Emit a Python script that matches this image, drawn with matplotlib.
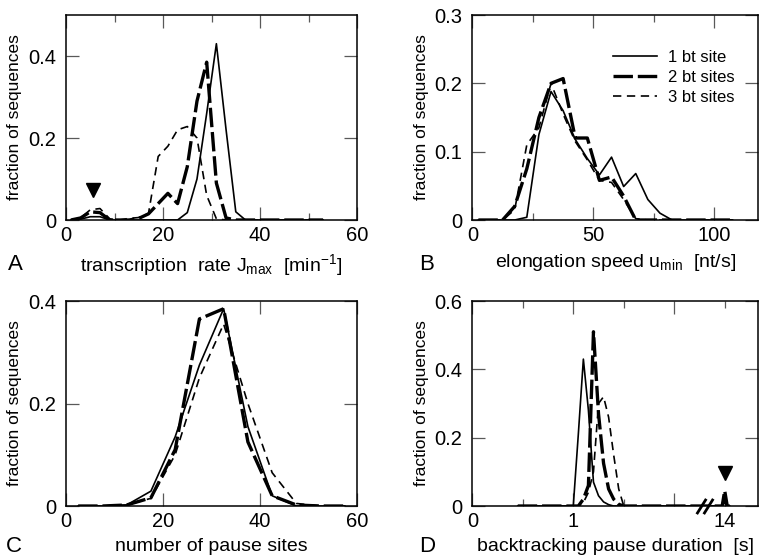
import matplotlib

matplotlib.use("Agg")
import matplotlib.pyplot as plt
from matplotlib.ticker import FixedFormatter, FixedLocator, MultipleLocator, NullLocator

# Panel A: transcription rate J_max [1/min]
rate_bins = [1, 3, 5, 7, 9, 11, 13, 15, 17, 19, 21, 23, 25, 27,
             29, 31, 33, 35, 37, 39, 41, 43, 45, 47, 49, 51, 53]
rate_1bt = [0, 0.002, 0.008, 0.008, 0, 0, 0, 0, 0, 0, 0, 0, 0.018, 0.1,
            0.26, 0.43, 0.22, 0.02, 0, 0, 0, 0, 0, 0, 0, 0, 0]
rate_2bt = [0, 0.005, 0.02, 0.018, 0, 0, 0, 0.004, 0.015, 0.04, 0.065, 0.04, 0.13, 0.29,
            0.385, 0.09, 0.005, 0, 0, 0, 0, 0, 0, 0, 0, 0, 0]
rate_3bt = [0, 0.005, 0.025, 0.028, 0.003, 0, 0.004, 0.006, 0.016, 0.155, 0.18, 0.22, 0.228, 0.2,
            0.06, 0.003, 0, 0, 0, 0, 0, 0, 0, 0, 0, 0, 0]

# Panel B: elongation speed u_min [nt/s]
speed_bins = [2.5, 7.5, 12.5, 17.5, 22.5, 27.5, 32.5, 37.5, 42.5, 47.5, 52.5,
              57.5, 62.5, 67.5, 72.5, 77.5, 82.5, 87.5, 92.5, 97.5, 102.5, 107.5]
speed_1bt = [0, 0, 0, 0, 0.004, 0.125, 0.188, 0.16, 0.118, 0.09, 0.066,
             0.092, 0.049, 0.068, 0.03, 0.01, 0, 0, 0, 0, 0, 0]
speed_2bt = [0, 0, 0, 0.02, 0.075, 0.15, 0.2, 0.207, 0.12, 0.12, 0.058,
             0.063, 0.035, 0, 0, 0, 0, 0, 0, 0, 0, 0]
speed_3bt = [0, 0, 0, 0.015, 0.11, 0.135, 0.2, 0.155, 0.115, 0.088, 0.058,
             0.055, 0.03, 0.002, 0, 0, 0, 0, 0, 0, 0, 0]

# Panel C: number of pause sites
pause_bins = [2.5, 7.5, 12.5, 17.5, 22.5, 27.5, 32.5, 37.5, 42.5, 47.5, 52.5, 57.5]
pause_1bt = [0, 0, 0.002, 0.029, 0.135, 0.275, 0.385, 0.155, 0.02, 0, 0, 0]
pause_2bt = [0, 0, 0.002, 0.016, 0.11, 0.365, 0.385, 0.125, 0.02, 0.002, 0, 0]
pause_3bt = [0, 0, 0.002, 0.015, 0.1, 0.25, 0.355, 0.2, 0.065, 0.005, 0, 0]

# Panel D: backtracking pause duration [s], axis broken between ~2 s and 14 s
dur_bins = [0.45, 0.95, 1.0, 1.05, 1.1, 1.15, 1.2, 1.25, 1.3, 1.35, 1.4, 1.45, 1.5, 2.25,
            13.5, 13.9, 14.0, 14.1, 14.2]
dur_1bt = [0, 0, 0, 0.21, 0.43, 0.28, 0.07, 0.03, 0.012, 0.004, 0, 0, 0, 0,
           0, 0, 0.01, 0, 0]
dur_2bt = [0, 0, 0, 0, 0.02, 0.06, 0.51, 0.27, 0.125, 0.05, 0.02, 0.005, 0, 0,
           0, 0, 0.045, 0, 0]
dur_3bt = [0, 0, 0, 0, 0.01, 0.04, 0.1, 0.3, 0.32, 0.26, 0.15, 0.05, 0, 0,
           0, 0, 0.02, 0, 0]

series_labels = ["1 bt site", "2 bt sites", "3 bt sites"]
STYLES = [
    dict(color="k", linewidth=1.2, linestyle="-"),
    dict(color="k", linewidth=2.4, dashes=(14, 3.5)),
    dict(color="k", linewidth=1.2, dashes=(6, 4)),
]

TICK_SIZE = 14.5
LABEL_SIZE = 14

plt.rcParams["font.family"] = ["Liberation Sans", "DejaVu Sans"]
plt.rcParams["mathtext.fontset"] = "custom"
plt.rcParams["mathtext.rm"] = "Liberation Sans"
plt.rcParams["mathtext.it"] = "Liberation Sans:italic"
plt.rcParams["lines.scale_dashes"] = False


def broken_x(t):
    # values near 14 s are squeezed next to the break, 14 s sits at 2.5
    return t if t < 3 else 2.5 + (t - 14.0) * 0.25


def style_axes(ax, xlim, ylim, xmajor, xminor, ymajor):
    ax.set_xlim(*xlim)
    ax.set_ylim(*ylim)
    ax.xaxis.set_major_locator(MultipleLocator(xmajor))
    if xminor:
        ax.xaxis.set_minor_locator(MultipleLocator(xminor))
    else:
        ax.xaxis.set_minor_locator(NullLocator())
    ax.yaxis.set_major_locator(MultipleLocator(ymajor))
    ax.yaxis.set_minor_locator(NullLocator())
    ax.tick_params(which="both", direction="in", top=True, right=True,
                   color="0.35", labelsize=TICK_SIZE)
    ax.tick_params(axis="x", which="both", pad=4.5)
    ax.tick_params(axis="y", which="both", pad=7)
    ax.tick_params(which="major", length=9.5, width=0.9)
    ax.tick_params(which="minor", length=5, width=0.9)
    for sp in ax.spines.values():
        sp.set_linewidth(1.1)
    ax.set_ylabel("fraction of sequences", fontsize=12.5)
    ax.yaxis.set_label_coords(-0.152, 0.5)
    ax.xaxis.set_label_coords(0.5, -0.155)


def fmt_plain(v, _pos=None):
    return "0" if v == 0 else f"{v:g}"


fig = plt.figure(figsize=(7.59, 5.56), dpi=100)
ax_a = fig.add_axes([0.0870, 0.6043, 0.3834, 0.3687])
ax_b = fig.add_axes([0.6223, 0.6043, 0.3764, 0.3687])
ax_c = fig.add_axes([0.0870, 0.0899, 0.3834, 0.3687])
ax_d = fig.add_axes([0.6223, 0.0899, 0.3764, 0.3687])

# A
for ys, st in zip([rate_1bt, rate_2bt, rate_3bt], STYLES):
    ax_a.plot(rate_bins, ys, **st)
style_axes(ax_a, (0, 60), (0, 0.5), 20, 10, 0.2)
ax_a.plot([5.6], [0.074], marker="v", color="k", markersize=10, linestyle="none")
ax_a.set_xlabel(r"transcription  rate J$_{\mathrm{max}}$  [min$^{\mathrm{-1}}$]",
                fontsize=LABEL_SIZE)

# B
lines_b = []
for ys, st, lab in zip([speed_1bt, speed_2bt, speed_3bt], STYLES, series_labels):
    (ln,) = ax_b.plot(speed_bins, ys, label=lab, **st)
    lines_b.append(ln)
style_axes(ax_b, (0, 118), (0, 0.3), 50, 25, 0.1)
ax_b.set_xlabel(r"elongation speed u$_{\mathrm{min}}$  [nt/s]", fontsize=LABEL_SIZE)
ax_b.legend(handles=lines_b, loc="upper left", bbox_to_anchor=(0.4925, 0.828),
            frameon=False, fontsize=12, borderpad=0, borderaxespad=0,
            handlelength=2.65, handletextpad=0.65, labelspacing=0.3)

# C
for ys, st in zip([pause_1bt, pause_2bt, pause_3bt], STYLES):
    ax_c.plot(pause_bins, ys, **st)
style_axes(ax_c, (0, 60), (0, 0.4), 20, None, 0.2)
ax_c.set_xlabel("number of pause sites", fontsize=LABEL_SIZE)

# D (broken axis)
dur_x = [broken_x(t) for t in dur_bins]
for ys, st in zip([dur_1bt, dur_2bt, dur_3bt], STYLES):
    ax_d.plot(dur_x, ys, **st)
style_axes(ax_d, (0, 2.83), (0, 0.6), 1, None, 0.2)
ax_d.xaxis.set_major_locator(FixedLocator([0, 1, 2]))
ax_d.xaxis.set_major_formatter(FixedFormatter(["0", "1", ""]))
ax_d.xaxis.set_minor_locator(FixedLocator([0.5, 1.5, 2.5]))
ax_d.xaxis.set_minor_formatter(FixedFormatter(["", "", "14"]))
for bx in [2.27, 2.33]:
    ax_d.plot([bx], [0], marker=[(-1, -1.6), (1, 1.6)], markersize=11,
              markeredgewidth=2, color="k", linestyle="none", clip_on=False)
ax_d.plot([broken_x(14.0)], [0.097], marker="v", color="k", markersize=10,
          linestyle="none")
ax_d.set_xlabel("backtracking pause duration  [s]", fontsize=LABEL_SIZE)

for ax in [ax_a, ax_b, ax_c, ax_d]:
    ax.yaxis.set_major_formatter(plt.FuncFormatter(fmt_plain))
for ax in [ax_a, ax_b, ax_c]:
    ax.xaxis.set_major_formatter(plt.FuncFormatter(fmt_plain))

for letter, (x, y) in zip("ABCD", [(15, 265), (427, 265), (14, 546), (427, 546)]):
    fig.text(x / 759, 1 - y / 556, letter, fontsize=16, ha="center", va="center")

fig.savefig("out.png", dpi=100)
print("saved out.png")
